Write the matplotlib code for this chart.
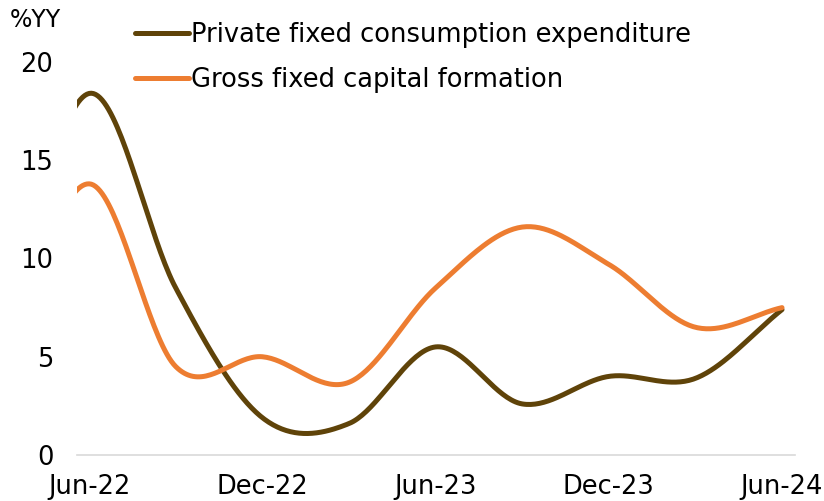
import numpy as np
import matplotlib.pyplot as plt

# quarterly %YY, first value (Mar-22) sits just left of the visible axis
quarters = ["Mar-22", "Jun-22", "Sep-22", "Dec-22", "Mar-23", "Jun-23",
            "Sep-23", "Dec-23", "Mar-24", "Jun-24"]
private_cons = [6.5, 18.4, 8.5, 1.9, 1.6, 5.5, 2.6, 4.0, 3.9, 7.4]
gross_cap = [4.8, 13.8, 4.5, 5.0, 3.7, 8.5, 11.6, 9.7, 6.5, 7.5]
tick_labels = ["Jun-22", "Dec-22", "Jun-23", "Dec-23", "Jun-24"]

brown = "#5F4309"
orange = "#ED7D31"


def smooth(y, n=40):
    # catmull-rom through the points, like excel's smoothed line
    y = np.asarray(y, float)
    x = np.arange(len(y)) - 1.0
    m = np.gradient(y)
    xs, ys = [], []
    for i in range(len(y) - 1):
        t = np.linspace(0, 1, n, endpoint=False)
        h00 = 2*t**3 - 3*t**2 + 1
        h10 = t**3 - 2*t**2 + t
        h01 = -2*t**3 + 3*t**2
        h11 = t**3 - t**2
        ys.append(h00*y[i] + h10*m[i] + h01*y[i+1] + h11*m[i+1])
        xs.append(x[i] + t)
    xs.append([x[-1]])
    ys.append([y[-1]])
    return np.concatenate(xs), np.concatenate(ys)


plt.rcParams['font.family'] = 'DejaVu Sans'
fig = plt.figure(figsize=(8.24, 5.01), dpi=100)
ax = fig.add_axes([77/824, 1 - 455/501, (795 - 77)/824, (455 - 62)/501])

xp, yp = smooth(private_cons)
xg, yg = smooth(gross_cap)
ax.plot(xp, yp, color=brown, lw=3.6, solid_capstyle='round',
        label="Private fixed consumption expenditure")
ax.plot(xg, yg, color=orange, lw=3.6, solid_capstyle='round',
        label="Gross fixed capital formation")

ax.set_xlim(-0.14, 8.15)
ax.set_ylim(0, 20)
ax.set_yticks([0, 5, 10, 15, 20])
ax.set_xticks([0, 2, 4, 6, 8])
ax.set_xticklabels(tick_labels)
ax.tick_params(length=0, labelsize=18.5)
ax.tick_params(axis='y', pad=17)
ax.tick_params(axis='x', pad=14)
for s in ["top", "right", "left"]:
    ax.spines[s].set_visible(False)
ax.spines["bottom"].set_color("#D9D9D9")
ax.spines["bottom"].set_linewidth(1.2)
ax.spines["bottom"].set_zorder(0)

fig.text(10/824, 1 - 20/501, "%YY", fontsize=17, va='center', ha='left')

leg = fig.legend(loc='upper left', bbox_to_anchor=(122/824, 1 - 9/501),
                 frameon=False, fontsize=18.5, handlelength=2.1,
                 handletextpad=0.1, labelspacing=0.75, borderpad=0)

fig.savefig("out.png", dpi=100)
